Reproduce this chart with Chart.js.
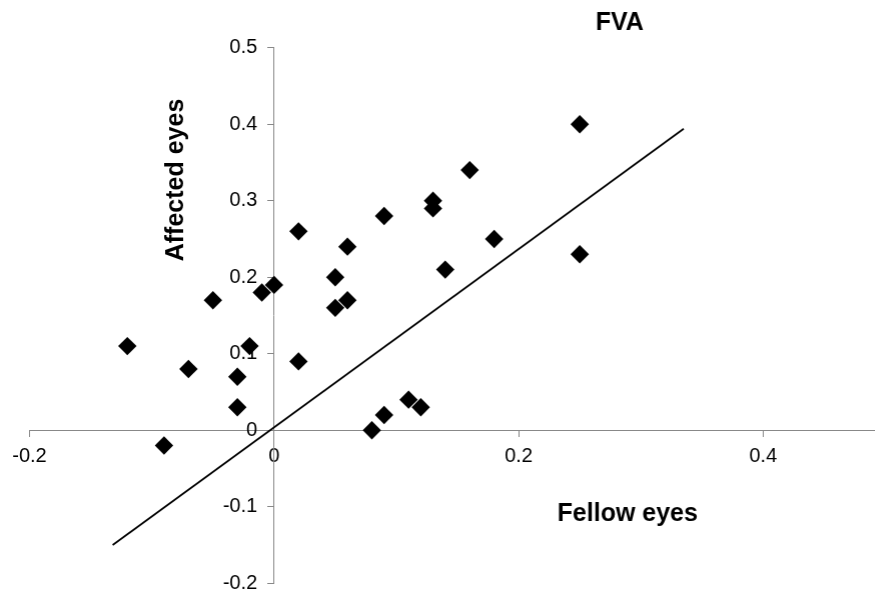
<!DOCTYPE html>
<html>
<head>
<meta charset="utf-8">
<script src="https://cdn.jsdelivr.net/npm/chart.js@4/dist/chart.umd.min.js"></script>
<style>
    html, body { margin: 0; padding: 0; background: #fff; overflow: hidden; }
    /* larger than the window: the x axis runs on past the right edge like the original,
       and the generous padding keeps label overflow from shrinking the plot area */
    #wrap { position: relative; width: 1036.7px; height: 613.3px; }
</style>
</head>
<body>
<div id="wrap"><canvas id="fvaChart"></canvas></div>
<script>
// FVA: fellow eyes (x) vs affected eyes (y)
const fellowEyes   = [-0.12, -0.07, -0.05, -0.03, -0.03, -0.02, -0.01, 0.00, -0.09, 0.02, 0.02, 0.06, 0.05, 0.06,
                      0.05, 0.09, 0.09, 0.08, 0.25, 0.16, 0.13, 0.13, 0.18, 0.14, 0.25, 0.11, 0.12];
const affectedEyes = [0.11, 0.08, 0.17, 0.07, 0.03, 0.11, 0.18, 0.19, -0.02, 0.26, 0.09, 0.24, 0.20, 0.17,
                      0.16, 0.28, 0.02, 0.00, 0.40, 0.34, 0.30, 0.29, 0.25, 0.21, 0.23, 0.04, 0.03];

// fitted line end points
const lineX = [-0.132, 0.335];
const lineY = [-0.150, 0.394];

const xRange = { min: -0.2, max: 0.6, step: 0.2 };
const yRange = { min: -0.2, max: 0.5, step: 0.1 };

const FONT = '"Liberation Sans", Arial, sans-serif';
const AXIS_GREY = '#888888';

const axisTitles = {
    id: 'axisTitles',
    afterDraw(chart) {
        const ctx = chart.ctx;
        ctx.save();
        ctx.fillStyle = '#000';
        ctx.font = 'bold 25px ' + FONT;
        ctx.textAlign = 'center';
        ctx.textBaseline = 'alphabetic';
        ctx.fillText('FVA', 619, 30);
        ctx.fillText('Fellow eyes', 627, 521);
        ctx.translate(183, 180);
        ctx.rotate(-Math.PI / 2);
        ctx.fillText('Affected eyes', 0, 0);
        ctx.restore();
    }
};

const points = fellowEyes.map((x, i) => ({ x, y: affectedEyes[i] }));
const linePts = lineX.map((x, i) => ({ x, y: lineY[i] }));

const fmt = v => String(Math.abs(v) < 1e-9 ? 0 : Number(v.toFixed(1)));

const axisOpts = (range, pos, labelFn, pad) => ({
    type: 'linear',
    position: pos,
    min: range.min,
    max: range.max,
    ticks: { stepSize: range.step, color: '#000', font: { family: FONT, size: 20 }, padding: pad, callback: labelFn },
    grid: { display: true, drawOnChartArea: false, drawTicks: true, tickLength: 6, color: AXIS_GREY, lineWidth: 1 },
    border: { display: true, color: AXIS_GREY, width: 1 }
});

new Chart(document.getElementById('fvaChart'), {
    type: 'scatter',
    data: {
        datasets: [
            { type: 'line', data: linePts, borderColor: '#000', borderWidth: 1.8, pointRadius: 0, fill: false, tension: 0 },
            { data: points, pointStyle: 'rectRot', pointRadius: 9.2, backgroundColor: '#000', borderWidth: 0 }
        ]
    },
    options: {
        responsive: true,
        maintainAspectRatio: false,
        animation: false,
        layout: { padding: { left: 29.5, top: 47.7, right: 30, bottom: 30 } },
        plugins: { legend: { display: false }, tooltip: { enabled: false } },
        scales: {
            x: axisOpts(xRange, { y: 0 }, v => fmt(v), 8),
            // labels of a centred y axis sit right on the line, so keep a gap after the text
            y: axisOpts(yRange, { x: 0 }, v => fmt(v) + '\u00a0\u00a0\u00a0', 0)
        }
    },
    plugins: [axisTitles]
});
</script>
</body>
</html>
